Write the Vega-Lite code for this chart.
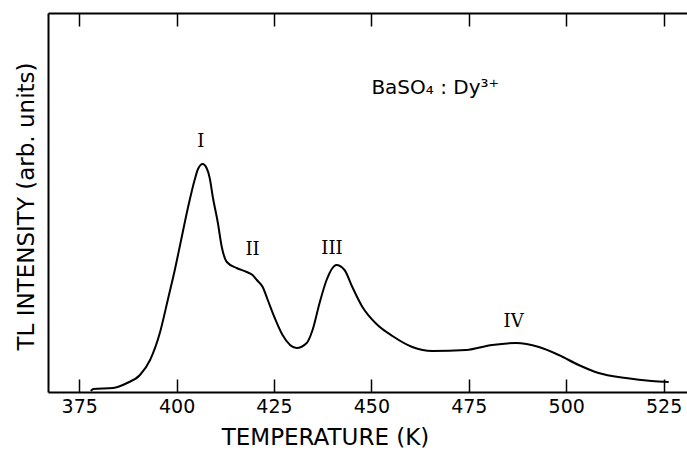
{
  "$schema": "https://vega.github.io/schema/vega-lite/v6.json",
  "width": 639,
  "height": 379,
  "autosize": "none",
  "padding": {"left": 48, "top": 13, "right": 0, "bottom": 60},
  "background": "white",
  "config": {"view": {"stroke": null}, "axis": {"grid": false}},
  "datasets": {
    "curve": [
      {"T": 378.0, "I": 1}, {"T": 378.6, "I": 3}, {"T": 383.7, "I": 4}, {"T": 387.3, "I": 9},
      {"T": 390.6, "I": 17}, {"T": 393.2, "I": 32}, {"T": 395.7, "I": 59}, {"T": 397.8, "I": 93},
      {"T": 399.6, "I": 123}, {"T": 400.9, "I": 147}, {"T": 402.9, "I": 184}, {"T": 404.7, "I": 213},
      {"T": 405.5, "I": 223}, {"T": 406.7, "I": 228}, {"T": 407.7, "I": 224}, {"T": 408.5, "I": 214},
      {"T": 409.3, "I": 195}, {"T": 410.6, "I": 169},
      {"T": 411.6, "I": 145}, {"T": 412.9, "I": 130}, {"T": 415.4, "I": 124}, {"T": 418.0, "I": 120},
      {"T": 419.5, "I": 117}, {"T": 420.6, "I": 112}, {"T": 422.1, "I": 105}, {"T": 423.4, "I": 92},
      {"T": 425.2, "I": 74}, {"T": 427.2, "I": 57}, {"T": 430.8, "I": 44}, {"T": 433.4, "I": 49},
      {"T": 434.9, "I": 62}, {"T": 436.7, "I": 89}, {"T": 438.5, "I": 112}, {"T": 441.0, "I": 127},
      {"T": 443.1, "I": 122}, {"T": 445.1, "I": 105}, {"T": 447.7, "I": 85}, {"T": 451.3, "I": 68},
      {"T": 455.4, "I": 56}, {"T": 460.5, "I": 45}, {"T": 465.6, "I": 41}, {"T": 474.3, "I": 42},
      {"T": 481.0, "I": 47}, {"T": 487.1, "I": 49}, {"T": 493.0, "I": 45}, {"T": 498.1, "I": 37},
      {"T": 503.2, "I": 27}, {"T": 508.3, "I": 19}, {"T": 515.3, "I": 14}, {"T": 521.9, "I": 11},
      {"T": 526.3, "I": 10}
    ],
    "peaks": [
      {"T": 406.2, "I": 250, "label": "I"},
      {"T": 419.5, "I": 142, "label": "II"},
      {"T": 439.9, "I": 143, "label": "III"},
      {"T": 486.5, "I": 70, "label": "IV"}
    ],
    "note": [{"T": 450, "I": 304, "label": "BaSO₄ : Dy³⁺"}]
  },
  "layer": [
    {
      "data": {"name": "curve"},
      "mark": {"type": "line", "color": "black", "strokeWidth": 2, "interpolate": "monotone"},
      "encoding": {
        "x": {
          "field": "T", "type": "quantitative",
          "scale": {"domain": [367, 531], "nice": false, "zero": false},
          "axis": {
            "title": "TEMPERATURE (K)", "values": [375, 400, 425, 450, 475, 500, 525],
            "orient": "bottom", "domainColor": "black", "domainWidth": 2,
            "tickColor": "black", "tickWidth": 1.5, "tickSize": -13,
            "labelPadding": 18, "labelFont": "DejaVu Sans", "labelFontSize": 19, "labelColor": "black",
            "titleFont": "DejaVu Sans", "titleFontSize": 23, "titleFontWeight": "normal", "titleColor": "black",
            "titlePadding": 10, "titleX": 277, "titleAlign": "center"
          }
        },
        "y": {
          "field": "I", "type": "quantitative",
          "scale": {"domain": [0, 379], "nice": false},
          "axis": {
            "title": "TL INTENSITY (arb. units)", "ticks": false, "labels": false,
            "domainColor": "black", "domainWidth": 2,
            "titleFont": "DejaVu Sans", "titleFontSize": 23, "titleFontWeight": "normal", "titleColor": "black",
            "titlePadding": 10, "titleY": 193, "titleAlign": "center"
          }
        }
      }
    },
    {
      "data": {"name": "curve"},
      "mark": {"type": "point", "opacity": 0},
      "encoding": {
        "x": {
          "field": "T", "type": "quantitative",
          "axis": {
            "orient": "top", "title": null, "labels": false,
            "values": [375, 400, 425, 450, 475, 500, 525],
            "domainColor": "black", "domainWidth": 2,
            "tickColor": "black", "tickWidth": 1.5, "tickSize": -13
          }
        },
        "y": {"field": "I", "type": "quantitative"}
      }
    },
    {
      "data": {"name": "peaks"},
      "mark": {"type": "text", "font": "DejaVu Serif", "fontSize": 18, "color": "black", "baseline": "middle", "align": "center"},
      "encoding": {
        "x": {"field": "T", "type": "quantitative", "axis": null},
        "y": {"field": "I", "type": "quantitative"},
        "text": {"field": "label"}
      }
    },
    {
      "data": {"name": "note"},
      "mark": {"type": "text", "font": "DejaVu Sans", "fontSize": 20, "color": "black", "baseline": "middle", "align": "left"},
      "encoding": {
        "x": {"field": "T", "type": "quantitative", "axis": null},
        "y": {"field": "I", "type": "quantitative"},
        "text": {"field": "label"}
      }
    }
  ],
  "resolve": {"axis": {"x": "independent"}}
}
